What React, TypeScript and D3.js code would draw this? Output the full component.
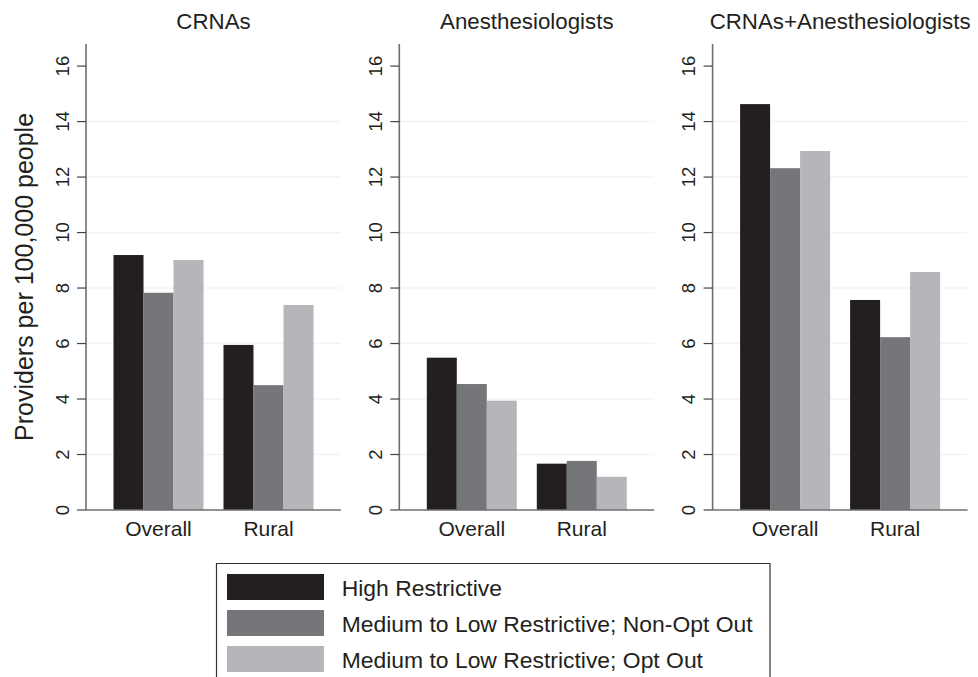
import React from "react";
import * as d3 from "d3";

const panelTitles = ["CRNAs", "Anesthesiologists", "CRNAs+Anesthesiologists"];
const categories = ["Overall", "Rural"];
const seriesNames = [
  "High Restrictive",
  "Medium to Low Restrictive; Non-Opt Out",
  "Medium to Low Restrictive; Opt Out",
];
const seriesColors = ["#231f20", "#75767a", "#b5b6ba"];
const yTicks = [0, 2, 4, 6, 8, 10, 12, 14, 16];

// values: [Overall, Rural]
const crnaHigh = [9.19, 5.95];
const crnaNonOpt = [7.83, 4.5];
const crnaOpt = [9.01, 7.39];
const anesHigh = [5.49, 1.67];
const anesNonOpt = [4.54, 1.77];
const anesOpt = [3.94, 1.2];
const combHigh = [14.63, 7.57];
const combNonOpt = [12.32, 6.23];
const combOpt = [12.94, 8.58];

const panelData = [
  [crnaHigh, crnaNonOpt, crnaOpt],
  [anesHigh, anesNonOpt, anesOpt],
  [combHigh, combNonOpt, combOpt],
];

const W = 978;
const H = 677;
const FONT = "'Liberation Sans', Arial, Helvetica, sans-serif";
const TXT = "#231f20";

export default function App() {
  const plotTop = 43.9;
  const plotBottom = 510;
  const y = d3.scaleLinear().domain([0, 16.8]).range([plotBottom, plotTop]);
  const panelLeft0 = 86;
  const panelStep = 313.3;
  const panelW = 255;
  const x0 = d3
    .scaleBand<string>()
    .domain(categories)
    .range([0, panelW])
    .paddingInner(20 / 110)
    .paddingOuter(0.25);
  const x1 = d3
    .scaleBand<string>()
    .domain(seriesNames)
    .range([0, x0.bandwidth()])
    .padding(0);

  return (
    <div style={{ position: "absolute", left: 0, top: 0 }}>
      <svg width={W} height={H} style={{ display: "block", background: "#fff" }} fontFamily={FONT}>
        {panelTitles.map((title, pi) => {
          const left = panelLeft0 + pi * panelStep;
          return (
            <g key={title} transform={`translate(${left},0)`}>
              {yTicks
                .filter((t) => t > 0 && t < 16)
                .map((t) => (
                  <line key={"g" + t} x1={1} x2={panelW} y1={y(t)} y2={y(t)} stroke="#f3f3f3" strokeWidth={1.5} />
                ))}
              {categories.map((cat, ci) => (
                <g key={cat} transform={`translate(${x0(cat)},0)`}>
                  {seriesNames.map((s, si) => {
                    const v = panelData[pi][si][ci];
                    return (
                      <rect
                        key={s}
                        x={x1(s)}
                        y={y(v)}
                        width={x1.bandwidth()}
                        height={y(0) - y(v)}
                        fill={seriesColors[si]}
                      />
                    );
                  })}
                  <text
                    x={x0.bandwidth() / 2}
                    y={535.5}
                    textAnchor="middle"
                    fontSize={21}
                    fill={TXT}
                  >
                    {cat}
                  </text>
                </g>
              ))}
              <line x1={0} x2={0} y1={plotTop} y2={plotBottom} stroke="#6f6f6f" strokeWidth={1.6} />
              <line x1={0} x2={panelW} y1={plotBottom} y2={plotBottom} stroke="#6f6f6f" strokeWidth={1.6} />
              {yTicks.map((t) => (
                <g key={"t" + t}>
                  <line x1={-9} x2={0} y1={y(t)} y2={y(t)} stroke="#444" strokeWidth={1.2} />
                  <text
                    transform={`translate(${-17.5},${y(t)}) rotate(-90)`}
                    textAnchor="middle"
                    fontSize={18.5}
                    fill={TXT}
                  >
                    {t}
                  </text>
                </g>
              ))}
              <text x={panelW / 2} y={29} textAnchor="middle" fontSize={22.3} fill={TXT}>
                {title}
              </text>
            </g>
          );
        })}
        <text
          transform={`translate(32.5,${(plotTop + plotBottom) / 2}) rotate(-90)`}
          textAnchor="middle"
          fontSize={25}
          fill={TXT}
        >
          Providers per 100,000 people
        </text>
        <g>
          <path d={`M216.5,${H + 2} V563.5 H770 V${H + 2}`} fill="none" stroke="#333" strokeWidth={1.2} />
          {seriesNames.map((s, si) => (
            <g key={s} transform={`translate(0,${574 + si * 36})`}>
              <rect x={227} y={0} width={97} height={26} fill={seriesColors[si]} />
              <text x={341.7} y={22} fontSize={22.9} fill={TXT}>
                {s}
              </text>
            </g>
          ))}
        </g>
      </svg>
    </div>
  );
}
